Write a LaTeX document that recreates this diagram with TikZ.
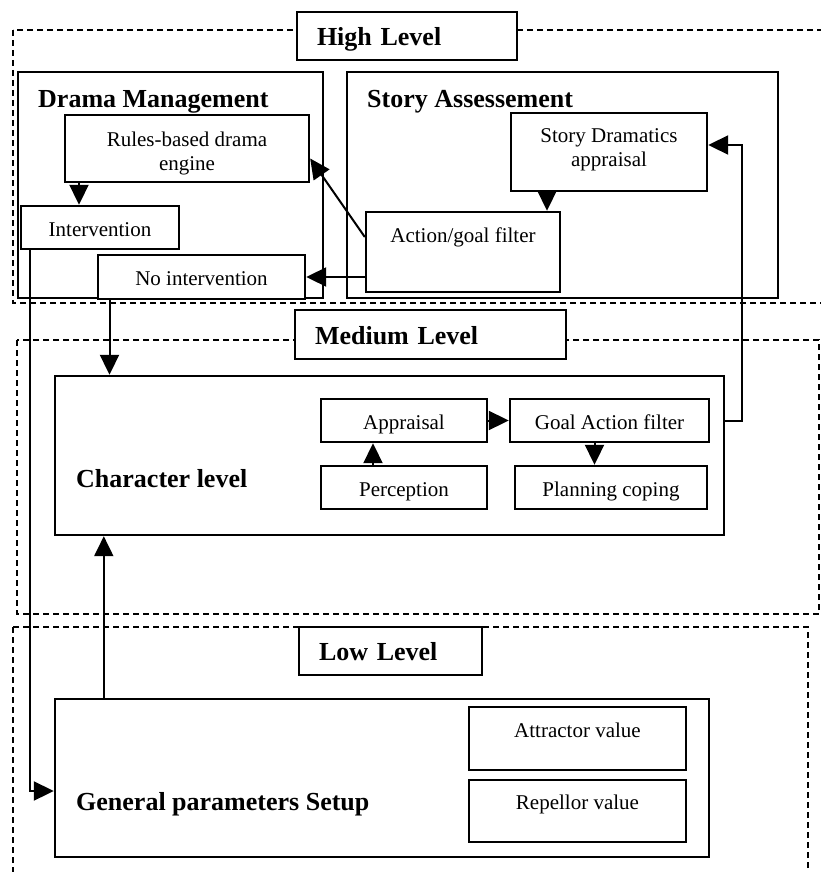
\documentclass[tikz,border=0pt]{standalone}
\usepackage{fontspec}
\setmainfont{Liberation Serif}
\usetikzlibrary{arrows.meta}

\begin{document}
\begin{tikzpicture}[x=1pt, y=-1pt,
    box/.style={draw, fill=white, line width=2.4pt, inner sep=0pt,
                text height=17pt, text depth=0pt,
                font=\fontsize{21}{24}\selectfont},
    title/.style={draw, fill=white, line width=2.4pt, inner xsep=20pt, inner ysep=0pt,
                  text height=19pt, text depth=0pt, align=left,
                  font=\fontsize{26}{30}\selectfont\bfseries},
    level/.style={line width=2pt, dash pattern=on 6pt off 4pt},
    txt/.style={inner sep=0pt, align=center, font=\fontsize{21}{24}\selectfont},
    head/.style={inner sep=0pt, anchor=base west, font=\fontsize{26}{30}\selectfont\bfseries},
    arr/.style={line width=2pt, -{Triangle[length=20pt, width=19pt]}}]

  \useasboundingbox (0,0) rectangle (821,872);
  \clip (0,0) rectangle (821,872);

  % the three levels
  \draw[level] (13,30) rectangle (840,303);
  \draw[level] (17,340) rectangle (819,614);
  \draw[level] (13,627) rectangle (808,900);

  % high level
  \node[box, minimum width=305pt, minimum height=226pt] (drama) at (170.5,185) {};
  \node[box, minimum width=431pt, minimum height=226pt] (story) at (562.5,185) {};
  \node[head] (dramahead) at (38,107) {Drama Management};
  \node[head] (storyhead) at (367,107) {Story Assessement};

  \node[box, minimum width=244pt, minimum height=67pt] (rules) at (187,148.5) {};
  \node[txt, anchor=base] (rulestext) at (187,170) {Rules-based drama\\engine};
  \node[box, minimum width=158pt, minimum height=43pt] (interv) at (100,227.5) {Intervention};
  \node[box, minimum width=207pt, minimum height=44pt] (nointerv) at (201.5,277) {No intervention};
  \node[box, minimum width=194pt, minimum height=80pt] (filter) at (463,252) {};
  \node[txt, anchor=base] (filtertext) at (463,242) {Action/goal filter};
  \node[box, minimum width=196pt, minimum height=78pt] (dramatics) at (609,152) {};
  \node[txt, anchor=base] (dramaticstext) at (609,166) {Story Dramatics\\appraisal};

  \node[title, text width=180pt, minimum height=48pt] (high) at (407,36) {High Level};

  % medium level
  \node[title, text width=231pt, minimum height=49pt] (medium) at (430.5,334.5) {Medium Level};
  \node[box, minimum width=669pt, minimum height=159pt] (charlevel) at (389.5,455.5) {};
  \node[head] (charhead) at (76,487) {Character level};
  \node[box, minimum width=166pt, minimum height=43pt] (appraisal) at (404,420.5) {Appraisal};
  \node[box, minimum width=166pt, minimum height=43pt] (perception) at (404,487.5) {Perception};
  \node[box, minimum width=199pt, minimum height=43pt] (goalfilter) at (609.5,420.5) {Goal Action filter};
  \node[box, minimum width=192pt, minimum height=43pt] (planning) at (611,487.5) {Planning coping};

  % low level
  \node[title, text width=143pt, minimum height=48pt] (low) at (390.5,651) {Low Level};
  \node[box, minimum width=654pt, minimum height=158pt] (general) at (382,778) {};
  \node[head] (generalhead) at (76,810) {General parameters Setup};
  \node[box, minimum width=217pt, minimum height=63pt] (attractor) at (577.5,738.5) {};
  \node[txt, anchor=base] (attractortext) at (577.5,737) {Attractor value};
  \node[box, minimum width=217pt, minimum height=62pt] (repellor) at (577.5,811) {};
  \node[txt, anchor=base] (repellortext) at (577.5,809) {Repellor value};

  % connectors
  \draw[arr] ([xshift=-108pt]rules.south) -- ([xshift=-108pt]rules.south |- interv.north);
  \draw[arr] ([yshift=15pt]filter.west) -- ([yshift=-10pt]rules.east);
  \draw[arr] (filter.west |- nointerv.east) -- (nointerv.east);
  \draw[arr] ([xshift=-62pt]dramatics.south) -- ([xshift=-62pt]dramatics.south |- filter.north);
  \draw[arr] (charlevel.east |- goalfilter.east) -- ++(17pt,0) |- ([yshift=7pt]dramatics.east);
  \draw[arr] ([xshift=-92pt]nointerv.south) -- ([xshift=-92pt]nointerv.south |- charlevel.north);
  \draw[arr] ([xshift=-70pt]interv.south) |- ([yshift=-13pt]general.west);
  \draw[arr] ([xshift=50pt]general.north west) -- ([xshift=50pt]charlevel.south west);
  \draw[arr] ([xshift=-31pt]perception.north) -- ([xshift=-31pt]appraisal.south);
  \draw[arr] (appraisal.east) -- (goalfilter.west);
  \draw[arr] ([xshift=-15pt]goalfilter.south) -- ([xshift=-15pt]goalfilter.south |- planning.north);
\end{tikzpicture}
\end{document}
